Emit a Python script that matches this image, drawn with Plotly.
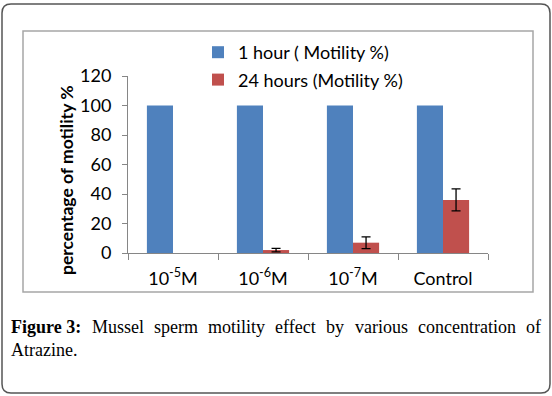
import plotly.graph_objects as go

categories = ["10<sup>-5</sup>M", "10<sup>-6</sup>M", "10<sup>-7</sup>M", "Control"]
hour1 = [100, 100, 100, 100]
hour24 = [0, 2, 7, 36]
hour24_err = [0, 1.2, 4, 7.5]
series_names = ["1 hour ( Motility %)", "24 hours (Motility %)"]
y_ticks = [0, 20, 40, 60, 80, 100, 120]
caption_bold = "Figure 3:"
caption_words = ["Mussel", "sperm", "motility", "effect",
                 "by", "various", "concentration", "of"]
caption_line2 = "Atrazine."

W, H = 552, 396
L, R, T, B = 128, 488, 76, 253  # plot area in page pixels


def px(x):
    return (x - L) / (R - L)


def py(y):
    return (B - y) / (B - T)


# a zero-height bar with zero error shows nothing in the reference
hour24_plot = [v if v > 0 else None for v in hour24]

fig = go.Figure()
fig.add_trace(go.Bar(x=categories, y=hour1, name=series_names[0],
                     marker=dict(color="#4F81BD", line=dict(width=0)),
                     legendgroup="a"))
fig.add_trace(go.Bar(x=categories, y=hour24_plot, name=series_names[1],
                     marker=dict(color="#C0504D", line=dict(width=0)),
                     error_y=dict(type="data", array=hour24_err, color="black",
                                  thickness=1.3, width=4.5),
                     legendgroup="b"))

font_sans = "Lato, Open Sans, sans-serif"

# outer rounded frame
x0, y0, x1, y1, r = 2, 4, 550, 393, 9
path = (f"M {px(x0 + r):.5f},{py(y0):.5f} L {px(x1 - r):.5f},{py(y0):.5f} Q {px(x1):.5f},{py(y0):.5f} {px(x1):.5f},{py(y0 + r):.5f} "
        f"L {px(x1):.5f},{py(y1 - r):.5f} Q {px(x1):.5f},{py(y1):.5f} {px(x1 - r):.5f},{py(y1):.5f} "
        f"L {px(x0 + r):.5f},{py(y1):.5f} Q {px(x0):.5f},{py(y1):.5f} {px(x0):.5f},{py(y1 - r):.5f} "
        f"L {px(x0):.5f},{py(y0 + r):.5f} Q {px(x0):.5f},{py(y0):.5f} {px(x0 + r):.5f},{py(y0):.5f} Z")
shapes = [
    dict(type="path", xref="paper", yref="paper", path=path,
         line=dict(color="#555555", width=1.5)),
    dict(type="rect", xref="paper", yref="paper",
         x0=px(23), x1=px(533), y0=py(292), y1=py(31),
         line=dict(color="#a6a6a6", width=1.5)),
]

serif = "Liberation Serif, Times New Roman, serif"
CAP_SIZE = 18
cap = dict(family=serif, size=CAP_SIZE, color="black")

# Times / Liberation Serif advance widths (per 1000 em) for justification
reg_w = dict(a=444, b=500, c=444, e=444, f=333, i=278, l=278, m=778, n=500,
             o=500, p=500, r=333, s=389, t=278, u=500, v=500, y=500, M=889)
bold_w = {"F": 611, "i": 278, "g": 500, "u": 556, "r": 444, "e": 444,
          " ": 250, "3": 500, ":": 333}


def wpx(word, table):
    return sum(table[c] for c in word) * CAP_SIZE / 1000.0


words = [(f"<b>{caption_bold}</b>", wpx(caption_bold, bold_w))] + \
        [(w, wpx(w, reg_w)) for w in caption_words]
line_left, line_right = 11, 541
gap = (line_right - line_left - sum(w for _, w in words)) / (len(words) - 1)

annotations = [
    dict(text="<b>percentage of motility %</b>", xref="paper", yref="paper",
         x=px(66), y=py(180), textangle=-90, showarrow=False,
         font=dict(family=font_sans, size=17.5, color="black"),
         xanchor="center", yanchor="middle"),
    dict(text=caption_line2, xref="paper", yref="paper",
         x=px(line_left), y=py(350), showarrow=False, xanchor="left",
         yanchor="middle", font=cap, borderpad=0, borderwidth=0),
]
xpos = line_left
for text, w in words:
    annotations.append(dict(text=text, xref="paper", yref="paper", x=px(xpos),
                            y=py(327), showarrow=False, xanchor="left",
                            yanchor="middle", font=cap, borderpad=0,
                            borderwidth=0))
    xpos += w + gap

fig.update_layout(
    width=W, height=H,
    margin=dict(l=L, r=W - R, t=T, b=H - B, pad=0),
    paper_bgcolor="white", plot_bgcolor="white",
    barmode="group", bargap=0.42, bargroupgap=0,
    font=dict(family=font_sans, size=18, color="black"),
    showlegend=True,
    legend=dict(x=px(198), y=py(34), xanchor="left", yanchor="top",
                bgcolor="rgba(0,0,0,0)", tracegroupgap=1,
                font=dict(family=font_sans, size=18, color="black")),
    shapes=shapes, annotations=annotations,
    xaxis=dict(type="category", range=[-0.5, 3.5], showline=True,
               linecolor="#868686", linewidth=1, ticks="outside",
               tickson="boundaries", ticklen=6, tickcolor="#868686",
               showgrid=False, zeroline=False, ticklabelstandoff=9,
               tickfont=dict(family=font_sans, size=18, color="black")),
    yaxis=dict(range=[0, 120], tickvals=y_ticks, showline=True,
               linecolor="#868686", linewidth=1, ticks="outside",
               ticklen=5, tickcolor="#868686", showgrid=False,
               zeroline=False, ticklabelstandoff=7,
               tickfont=dict(family=font_sans, size=18, color="black")),
)

fig.write_html(
    "out.html",
    config={"displayModeBar": False},
    post_script="document.body.style.margin='0';document.body.style.overflow='hidden';",
)
